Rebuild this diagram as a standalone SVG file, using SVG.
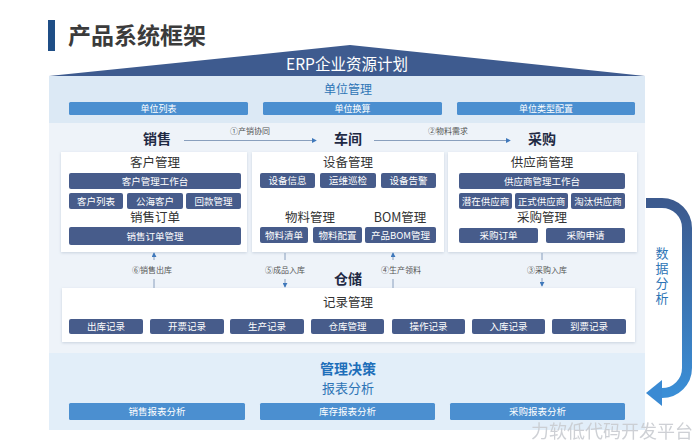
<svg xmlns="http://www.w3.org/2000/svg" width="700" height="444" viewBox="0 0 700 444">
<defs>
<style>
text{font-family:"Noto Sans CJK SC","Liberation Sans",sans-serif;text-anchor:middle}
.dk{fill:#475c8b}
.md{fill:#4b8fd0}
.bt{fill:#ffffff;font-size:9.5px}
.h{fill:#333333;font-size:12.5px}
.hd{fill:#1f2a44;font-size:14px;font-weight:bold}
.lb{fill:#555555;font-size:8px}
.pn{fill:#ffffff;filter:url(#sh)}
.cn{stroke:#7d95b5;stroke-width:0.9;fill:none}
</style>
<filter id="sh" x="-5%" y="-5%" width="110%" height="115%">
<feDropShadow dx="0" dy="1" stdDeviation="1.5" flood-color="#7f93ad" flood-opacity="0.35"/>
</filter>
<linearGradient id="ag" x1="0" y1="0" x2="0" y2="1">
<stop offset="0" stop-color="#3c5a8e"/>
<stop offset="1" stop-color="#3a8ed6"/>
</linearGradient>
<marker id="ah" viewBox="0 0 6 6" refX="5" refY="3" markerWidth="5" markerHeight="5" markerUnits="userSpaceOnUse" orient="auto">
<path d="M0,0 L6,3 L0,6 z" fill="#3f78bb"/>
</marker>
</defs>
<rect width="700" height="444" fill="#ffffff"/>

<g id="title">
<rect x="48" y="20" width="7" height="31" fill="#1f4e86"/>
<text x="68" y="44" style="text-anchor:start;font-size:23px;font-weight:bold;fill:#3b3b3b">产品系统框架</text>
</g>

<g id="areas">
<rect x="49" y="123" width="596" height="230" fill="#eef3f9"/>
<rect x="49" y="353" width="596" height="77" fill="#e2eef9"/>
</g>

<g id="erp">
<polygon points="49,76 350,45 645,76" fill="#3e5b8f"/>
<text x="347" y="70" style="fill:#ffffff;font-size:15.5px">ERP企业资源计划</text>
</g>

<g id="unit">
<rect x="49" y="76" width="596" height="47" fill="#dce9f5"/>
<text x="348" y="94" style="fill:#2e75b6;font-size:12px">单位管理</text>
<rect class="md" x="69" y="102" width="179" height="13" rx="1.5"/>
<text class="bt" x="158.5" y="112" style="font-size:9px">单位列表</text>
<rect class="md" x="263" y="102" width="179" height="13" rx="1.5"/>
<text class="bt" x="352.5" y="112" style="font-size:9px">单位换算</text>
<rect class="md" x="457" y="102" width="178" height="13" rx="1.5"/>
<text class="bt" x="546" y="112" style="font-size:9px">单位类型配置</text>
</g>

<g id="sales">
<text class="hd" x="157" y="144">销售</text>
<rect class="pn" x="61" y="152" width="186" height="100"/>
<text class="h" x="155" y="167">客户管理</text>
<rect class="dk" x="69" y="173" width="172" height="16" rx="2"/>
<text class="bt" x="155" y="184.5">客户管理工作台</text>
<rect class="dk" x="69" y="193" width="54" height="16" rx="2"/>
<text class="bt" x="96" y="204.5">客户列表</text>
<rect class="dk" x="127" y="193" width="56" height="16" rx="2"/>
<text class="bt" x="155" y="204.5">公海客户</text>
<rect class="dk" x="186" y="193" width="55" height="16" rx="2"/>
<text class="bt" x="213.5" y="204.5">回款管理</text>
<text class="h" x="155" y="222">销售订单</text>
<rect class="dk" x="69" y="227" width="172" height="18" rx="2"/>
<text class="bt" x="155" y="239.5">销售订单管理</text>
</g>

<g id="workshop">
<text class="hd" x="348" y="144">车间</text>
<rect class="pn" x="252" y="152" width="192" height="100"/>
<text class="h" x="348" y="167">设备管理</text>
<rect class="dk" x="260" y="173" width="55" height="15" rx="2"/>
<text class="bt" x="287.5" y="184">设备信息</text>
<rect class="dk" x="320" y="173" width="56" height="15" rx="2"/>
<text class="bt" x="348" y="184">运维巡检</text>
<rect class="dk" x="381" y="173" width="55" height="15" rx="2"/>
<text class="bt" x="408.5" y="184">设备告警</text>
<text class="h" x="310" y="222">物料管理</text>
<text class="h" x="400" y="222">BOM管理</text>
<rect class="dk" x="260" y="227" width="48" height="16" rx="2"/>
<text class="bt" x="284" y="238.5">物料清单</text>
<rect class="dk" x="313" y="227" width="49" height="16" rx="2"/>
<text class="bt" x="337.5" y="238.5">物料配置</text>
<rect class="dk" x="365" y="227" width="71" height="16" rx="2"/>
<text class="bt" x="400.5" y="238.5">产品BOM管理</text>
</g>

<g id="purchase">
<text class="hd" x="542" y="144">采购</text>
<rect class="pn" x="448" y="152" width="189" height="100"/>
<text class="h" x="542" y="167">供应商管理</text>
<rect class="dk" x="459" y="173" width="166" height="16" rx="2"/>
<text class="bt" x="542" y="184.5">供应商管理工作台</text>
<rect class="dk" x="459" y="193" width="53" height="16" rx="2"/>
<text class="bt" x="485.5" y="204.5">潜在供应商</text>
<rect class="dk" x="515" y="193" width="53" height="16" rx="2"/>
<text class="bt" x="541.5" y="204.5">正式供应商</text>
<rect class="dk" x="571" y="193" width="54" height="16" rx="2"/>
<text class="bt" x="598" y="204.5">淘汰供应商</text>
<text class="h" x="542" y="222">采购管理</text>
<rect class="dk" x="459" y="228" width="79" height="15" rx="2"/>
<text class="bt" x="498.5" y="239">采购订单</text>
<rect class="dk" x="546" y="228" width="79" height="15" rx="2"/>
<text class="bt" x="585.5" y="239">采购申请</text>
</g>

<g id="warehouse">
<text class="hd" x="348" y="284">仓储</text>
<rect class="pn" x="62" y="288" width="573" height="54"/>
<text class="h" x="348" y="307">记录管理</text>
<rect class="dk" x="69" y="319" width="74" height="15" rx="2"/>
<text class="bt" x="106" y="330">出库记录</text>
<rect class="dk" x="150" y="319" width="74" height="15" rx="2"/>
<text class="bt" x="187" y="330">开票记录</text>
<rect class="dk" x="230" y="319" width="74" height="15" rx="2"/>
<text class="bt" x="267" y="330">生产记录</text>
<rect class="dk" x="311" y="319" width="73" height="15" rx="2"/>
<text class="bt" x="347.5" y="330">仓库管理</text>
<rect class="dk" x="392" y="319" width="73" height="15" rx="2"/>
<text class="bt" x="428.5" y="330">操作记录</text>
<rect class="dk" x="472" y="319" width="73" height="15" rx="2"/>
<text class="bt" x="508.5" y="330">入库记录</text>
<rect class="dk" x="552" y="319" width="74" height="15" rx="2"/>
<text class="bt" x="589" y="330">到票记录</text>
</g>

<g id="decision">
<text x="348" y="374" style="fill:#1e6fba;font-size:14px;font-weight:bold">管理决策</text>
<text x="348" y="393" style="fill:#2e75b6;font-size:13px">报表分析</text>
<rect class="md" x="69" y="403" width="176" height="17" rx="1.5"/>
<text class="bt" x="157" y="414.5">销售报表分析</text>
<rect class="md" x="260" y="403" width="175" height="17" rx="1.5"/>
<text class="bt" x="347.5" y="414.5">库存报表分析</text>
<rect class="md" x="450" y="403" width="175" height="17" rx="1.5"/>
<text class="bt" x="537.5" y="414.5">采购报表分析</text>
</g>

<g id="connectors">
<line class="cn" x1="184" y1="140.5" x2="316" y2="140.5" marker-end="url(#ah)"/>
<text class="lb" x="250" y="134">①产销协同</text>
<line class="cn" x1="374" y1="140.5" x2="510" y2="140.5" marker-end="url(#ah)"/>
<text class="lb" x="448" y="134">②物料需求</text>

<line class="cn" x1="154" y1="288" x2="154" y2="279"/>
<line class="cn" x1="154" y1="260" x2="154" y2="253" marker-end="url(#ah)"/>
<text class="lb" x="152" y="273">⑥销售出库</text>

<line class="cn" x1="285" y1="253" x2="285" y2="260"/>
<line class="cn" x1="285" y1="279" x2="285" y2="287" marker-end="url(#ah)"/>
<text class="lb" x="285" y="273">⑤成品入库</text>

<line class="cn" x1="393" y1="288" x2="393" y2="279"/>
<line class="cn" x1="393" y1="260" x2="393" y2="253" marker-end="url(#ah)"/>
<text class="lb" x="401" y="273">④生产领料</text>

<line class="cn" x1="542" y1="253" x2="542" y2="260"/>
<line class="cn" x1="542" y1="278" x2="542" y2="286" marker-end="url(#ah)"/>
<text class="lb" x="547" y="273">③采购入库</text>

<path d="M646,203 H662 A25,25 0 0 1 687,228 V368 A25,25 0 0 1 662,393 H658" fill="none" stroke="url(#ag)" stroke-width="10"/>
<polygon points="646,393 662,380 662,406" fill="#3a8ad3"/>
</g>

<text id="analysis-label" x="662" y="247" style="fill:#2e75b6;font-size:13px;writing-mode:vertical-rl;text-anchor:start;letter-spacing:2px">数据分析</text>

<text x="612" y="438" style="fill:#c9ccd1;font-size:18px;opacity:0.9">力软低代码开发平台</text>
</svg>
